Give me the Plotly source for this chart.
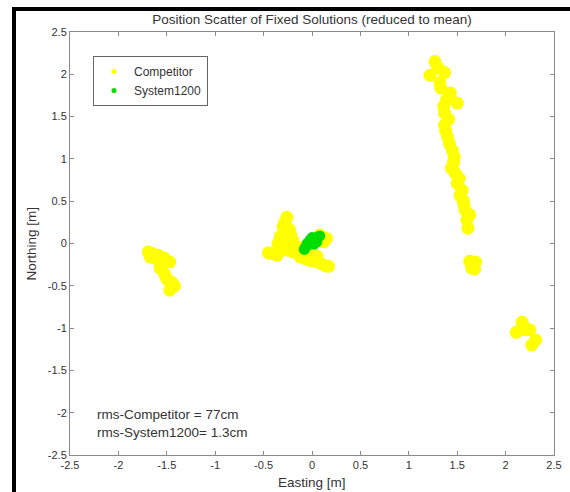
import plotly.graph_objects as go

# Competitor fixed solutions (Easting, Northing) in metres, reduced to mean
comp_e = [
    # left cluster
    -1.69, -1.64, -1.59, -1.53, -1.47, -1.67, -1.54, -1.57, -1.52, -1.45, -1.47, -1.42, -1.50,
    -1.61, -1.55,
    # centre cluster
    -0.26, -0.28, -0.30, -0.33, -0.23, -0.45, -0.40, -0.36, -0.30, -0.25, -0.20, -0.15,
    -0.12, -0.07, -0.02, 0.03, 0.08, 0.13, 0.17, 0.15, 0.08, 0.12, -0.33,
    -0.28, -0.20, -0.05, 0.05, -0.35, -0.22, -0.10,
    # diagonal streak
    1.27, 1.22, 1.30, 1.37, 1.32, 1.43, 1.50, 1.39, 1.37, 1.37, 1.38, 1.40, 1.42, 1.45,
    1.46, 1.48, 1.50, 1.55, 1.56, 1.58, 1.60, 1.61, 1.63, 1.52, 1.47,
    1.33, 1.36, 1.41, 1.44, 1.53, 1.57,
    # small cluster right
    1.63, 1.69, 1.65, 1.68,
    # lower right cluster
    2.17, 2.11, 2.21, 2.25, 2.31, 2.27,
]
comp_n = [
    -0.10, -0.12, -0.14, -0.17, -0.22, -0.16, -0.22, -0.29, -0.37, -0.46, -0.55, -0.50, -0.42,
    -0.18, -0.26,
    0.31, 0.25, 0.20, 0.08, 0.16, -0.11, -0.12, -0.14, -0.04, -0.08, 0.04, -0.04,
    -0.16, -0.18, -0.20, -0.21, -0.23, -0.26, -0.27, 0.06, 0.10, 0.02, -0.02,
    0.05, -0.10, -0.12, -0.15, 0.00, 0.10, -0.06,
    2.15, 1.99, 2.08, 2.02, 1.90, 1.78, 1.66, 1.70, 1.54, 1.40, 1.33, 1.26, 1.18, 1.10,
    0.95, 0.83, 0.71, 0.63, 0.51, 0.40, 0.28, 0.18, 0.34, 0.77, 1.02,
    1.84, 1.62, 1.47, 0.89, 0.57, 0.46,
    -0.21, -0.22, -0.29, -0.30,
    -0.93, -1.05, -1.02, -1.02, -1.14, -1.20,
]

# System1200 fixed solutions
sys_e = [-0.07, -0.04, 0.00, 0.04, 0.06, -0.02, 0.02, 0.05, -0.05, 0.00, 0.02, -0.08, 0.08]
sys_n = [-0.05, -0.02, 0.02, 0.05, 0.08, 0.04, -0.01, 0.02, 0.00, 0.07, 0.00, -0.07, 0.09]

tick_vals = [-2.5, -2, -1.5, -1, -0.5, 0, 0.5, 1, 1.5, 2, 2.5]
tick_text = ["-2.5", "-2", "-1.5", "-1", "-0.5", "0", "0.5", "1", "1.5", "2", "2.5"]

rms_lines = ["rms-Competitor = 77cm", "rms-System1200= 1.3cm"]

FONT = "Liberation Sans, Arial, sans-serif"
TXT = "#333333"
AX = "#8a8a8a"

fig = go.Figure()
fig.add_trace(go.Scatter(x=comp_e, y=comp_n, mode="markers", showlegend=False,
                         marker=dict(color="#ffff00", size=13, line=dict(width=0))))
fig.add_trace(go.Scatter(x=sys_e, y=sys_n, mode="markers", showlegend=False,
                         marker=dict(color="#00dd00", size=11, line=dict(width=0))))
# legend entries with small markers
fig.add_trace(go.Scatter(x=[None], y=[None], mode="markers", name="Competitor",
                         marker=dict(color="#ffff00", size=5)))
fig.add_trace(go.Scatter(x=[None], y=[None], mode="markers", name="System1200",
                         marker=dict(color="#00dd00", size=5)))

axis_common = dict(
    showline=True, linecolor=AX, linewidth=1, mirror="ticks",
    ticks="inside", ticklen=4, tickcolor=AX, tickwidth=1,
    showgrid=False, zeroline=False, automargin=False,
    tickfont=dict(family=FONT, size=11, color=TXT),
    tickvals=tick_vals, ticktext=tick_text,
)

W, H = 570, 492

fig.update_layout(
    width=W, height=H,
    margin=dict(l=70, r=16, t=32, b=37),
    paper_bgcolor="white", plot_bgcolor="white",
    font=dict(family=FONT, size=11, color=TXT),
    title=dict(text="Position Scatter of Fixed Solutions (reduced to mean)",
               x=0.5, xanchor="center", xref="paper",
               y=1 - 19 / H, yanchor="middle", automargin=False,
               font=dict(family=FONT, size=13.5, color=TXT)),
    xaxis=dict(range=[-2.5, 2.5], **axis_common),
    yaxis=dict(range=[-2.5, 2.5], **axis_common),
    legend=dict(x=0.0475, y=0.943, xanchor="left", yanchor="top",
                bgcolor="white", bordercolor="#666666", borderwidth=1,
                font=dict(family=FONT, size=12, color=TXT), itemwidth=30,
                tracegroupgap=0),
)

def px_x(p):
    # pixel x -> paper fraction
    return (p - 70) / 484.0

def px_y(p):
    # pixel y -> paper fraction
    return (455 - p) / 423.0

fig.add_annotation(x=0.5, y=px_y(482), xref="paper", yref="paper", text="Easting [m]",
                   showarrow=False, xanchor="center", yanchor="middle",
                   font=dict(family=FONT, size=13.5, color=TXT))
fig.add_annotation(x=px_x(31), y=0.5, xref="paper", yref="paper", text="Northing [m]",
                   showarrow=False, xanchor="center", yanchor="middle", textangle=-90,
                   font=dict(family=FONT, size=13.5, color=TXT))

for i, t in enumerate(rms_lines):
    fig.add_annotation(x=-2.24, y=-2.02 - 0.21 * i, xref="x", yref="y", text=t,
                       showarrow=False, xanchor="left", yanchor="middle",
                       font=dict(family=FONT, size=13.5, color=TXT))

# black frame (top and left edges of the screenshot), kept inside the figure
fig.add_shape(type="line", xref="paper", yref="paper",
              x0=px_x(12), x1=px_x(570), y0=px_y(9), y1=px_y(9),
              line=dict(color="black", width=4))
fig.add_shape(type="line", xref="paper", yref="paper",
              x0=px_x(14), x1=px_x(14), y0=px_y(7), y1=px_y(492),
              line=dict(color="black", width=4))

fig.write_html(
    "out.html",
    config={"displayModeBar": False},
    post_script="document.body.style.margin='0';document.body.style.overflow='hidden';",
)
